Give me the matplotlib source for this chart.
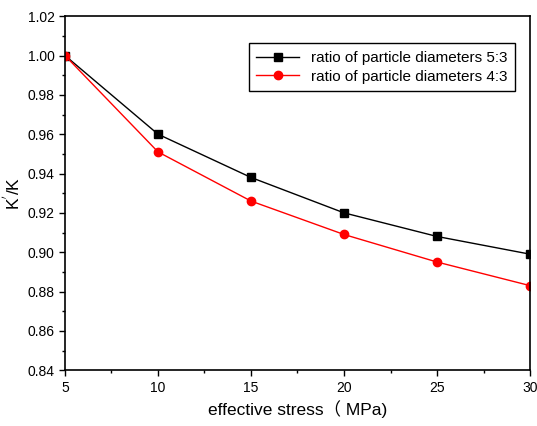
import matplotlib
matplotlib.use("Agg")
from matplotlib import pyplot as plt
from matplotlib.ticker import MultipleLocator

plt.rcParams['font.family'] = ['Liberation Sans', 'DejaVu Sans']

# data
stress = [5, 10, 15, 20, 25, 30]
ratio_53 = [1.000, 0.960, 0.938, 0.920, 0.908, 0.899]
ratio_43 = [1.000, 0.951, 0.926, 0.909, 0.895, 0.883]

fig = plt.figure(figsize=(5.37, 4.26), dpi=100)
ax = fig.add_axes([0.121, 0.131, 0.866, 0.831])

ax.plot(stress, ratio_53, c='black', marker='s', markersize=6, lw=1, label="ratio of particle diameters 5:3")
ax.plot(stress, ratio_43, c='red', marker='o', markersize=6, lw=1, label="ratio of particle diameters 4:3")

ax.set_xlim(5, 30)
ax.set_ylim(0.84, 1.02)
ax.xaxis.set_major_locator(MultipleLocator(5))
ax.xaxis.set_minor_locator(MultipleLocator(2.5))
ax.yaxis.set_major_locator(MultipleLocator(0.02))
ax.yaxis.set_minor_locator(MultipleLocator(0.01))
ax.yaxis.set_major_formatter(matplotlib.ticker.FormatStrFormatter('%.2f'))
ax.tick_params(axis="both", which="major", labelsize=10, length=4, width=1)
ax.tick_params(axis="both", which="minor", length=2.5, width=1)
for s in ax.spines.values():
    s.set_linewidth(1.2)

ax.set_xlabel("effective stress\uff08 MPa)", fontsize=12.5, family=['Liberation Sans', 'Noto Sans CJK SC'])
ax.set_ylabel("K$^{'}$/K", fontsize=12.5)
ax.yaxis.set_label_coords(-0.09, 0.5)

ax.legend(loc='upper right', bbox_to_anchor=(0.985, 0.945), fontsize=11, frameon=True,
          fancybox=False, edgecolor='black', framealpha=1, handlelength=2.8,
          borderpad=0.5, labelspacing=0.3)

fig.savefig("out.png", dpi=100)
